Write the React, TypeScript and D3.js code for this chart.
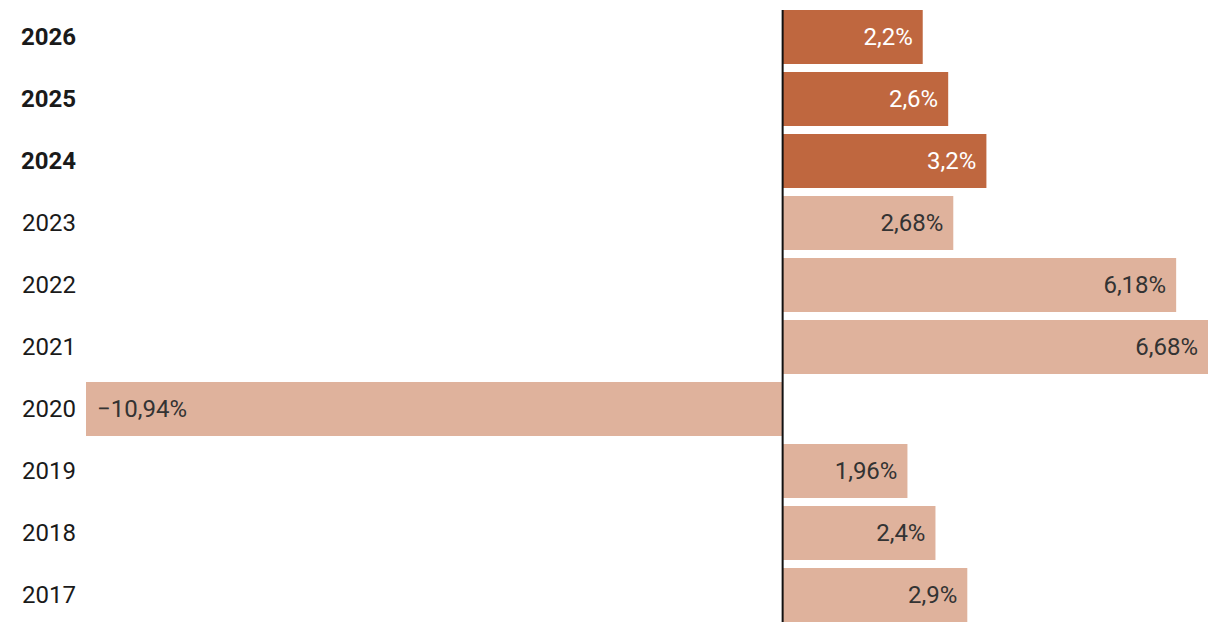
import React from "react";
import * as d3 from "d3";

const years = ["2026", "2025", "2024", "2023", "2022", "2021", "2020", "2019", "2018", "2017"];
const values = [2.2, 2.6, 3.2, 2.68, 6.18, 6.68, -10.94, 1.96, 2.4, 2.9];
const forecast = [true, true, true, false, false, false, false, false, false, false];

const W = 1220;
const H = 632;
const FONT = "Roboto, 'Noto Sans', sans-serif";

export default function App() {
  const x = d3.scaleLinear().domain([-10.94, 6.68]).range([86, 1208]);
  const y = d3.scaleBand<string>().domain(years).range([10, 622]).paddingInner(8 / 62).paddingOuter(0);
  const fmt = (v: number) => {
    const s = Math.abs(v).toString().replace(".", ",") + "%";
    return v < 0 ? "\u2212" + s : s;
  };
  const x0 = x(0);
  const top = y(years[0])!;
  const bottom = y(years[years.length - 1])! + y.bandwidth();
  return (
    <svg width={W} height={H} style={{ position: "absolute", left: 0, top: 0, display: "block" }}>
      <rect width={W} height={H} fill="#fff" />
      {years.map((yr, i) => {
        const v = values[i];
        const yy = y(yr)!;
        const bw = y.bandwidth();
        const x1 = x(Math.min(0, v));
        const x2 = x(Math.max(0, v));
        const dark = forecast[i];
        return (
          <g key={yr}>
            <text
              x={76}
              y={yy + bw / 2}
              dy="0.35em"
              textAnchor="end"
              fontFamily={FONT}
              fontSize={24}
              fontWeight={dark ? 700 : 400}
              fill="#1a1a1a"
            >
              {yr}
            </text>
            <rect x={x1} y={yy} width={x2 - x1} height={bw} fill={dark ? "#bf673f" : "#dfb29c"} />
            <text
              x={v < 0 ? x1 + 11 : x2 - 10}
              y={yy + bw / 2}
              dy="0.35em"
              textAnchor={v < 0 ? "start" : "end"}
              fontFamily={FONT}
              fontSize={24}
              fill={dark ? "#ffffff" : "#333333"}
            >
              {fmt(v)}
            </text>
          </g>
        );
      })}
      <line x1={x0} x2={x0} y1={top} y2={bottom} stroke="#111" strokeWidth={2} />
    </svg>
  );
}
